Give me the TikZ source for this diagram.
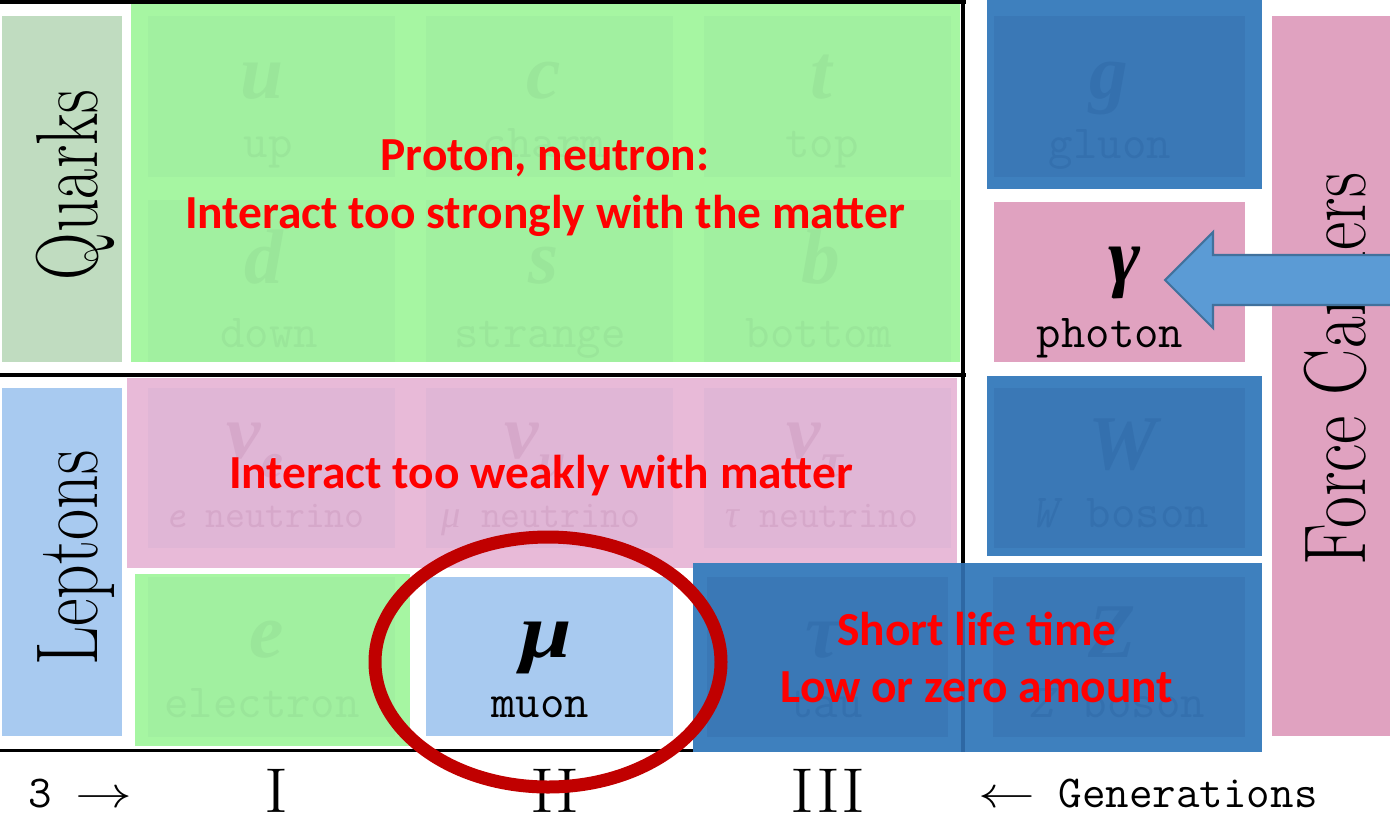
\documentclass[tikz,border=0pt]{standalone}
\usepackage{fontspec}
\newfontfamily\calib{Carlito}
\newfontfamily\symfont{Liberation Serif}
\definecolor{quarkbg}{HTML}{C0DCC0}
\definecolor{leptonbg}{HTML}{A8CAF0}
\definecolor{greenov}{HTML}{A6F6A2}
\definecolor{greencell}{HTML}{A1F0A0}
\definecolor{greentxt}{HTML}{9AE69A}
\definecolor{pinkov}{HTML}{E8BAD8}
\definecolor{pinkcell}{HTML}{E0B6D6}
\definecolor{pinktxt}{HTML}{D6A8CA}
\definecolor{bosonblue}{HTML}{3E80BE}
\definecolor{bosoncell}{HTML}{3A78B6}
\definecolor{bosontxt}{HTML}{3470AE}
\definecolor{bosonline}{HTML}{2E68A4}
\definecolor{photonpink}{HTML}{E0A2C0}
\definecolor{warnred}{HTML}{FF0000}
\definecolor{ringred}{HTML}{C00000}
\definecolor{arrowfill}{HTML}{5B9BD5}
\definecolor{arrowline}{HTML}{41719C}
\begin{document}
\begin{tikzpicture}[x=0.02cm, y=-0.02cm,
    sym/.style={anchor=base, font=\symfont\bfseries\itshape\fontsize{44}{44}\selectfont},
    pname/.style={anchor=base, font=\ttfamily\fontsize{27}{27}\selectfont},
    nuname/.style={anchor=base, font=\ttfamily\fontsize{22}{22}\selectfont},
    warn/.style={anchor=base, text=warnred, font=\calib\bfseries\fontsize{27}{27}\selectfont},
    sidelbl/.style={anchor=base, rotate=90, font=\fontsize{50}{50}\selectfont},
    roman/.style={anchor=base, font=\fontsize{36}{36}\selectfont},
    genlbl/.style={anchor=base, font=\ttfamily\fontsize{26}{26}\selectfont}]
    \useasboundingbox (0,0) rectangle (1390,836);

    % 1. Nền các ô
    \fill[quarkbg] (2,16) rectangle (122,362);
    \fill[leptonbg] (2,388) rectangle (122,736);
    \fill[greenov] (131,4) rectangle (960,362);
    \foreach \x in {148,426,704} {
        \fill[greencell] (\x,16) rectangle +(247,161);
        \fill[greencell] (\x,200) rectangle +(247,162);
    }
    \fill[pinkov] (127,378) rectangle (957,568);
    \foreach \x in {148,426,704}
        \fill[pinkcell] (\x,388) rectangle +(247,160);
    \fill[greenov] (135,574) rectangle (410,746);
    \fill[greencell] (148,577) rectangle (395,737);
    \fill[leptonbg] (426,577) rectangle (673,736);
    \fill[bosonblue] (987,0) rectangle (1262,189);
    \fill[bosoncell] (994,16) rectangle (1245,177);
    \fill[photonpink] (994,202) rectangle (1245,362);
    \fill[bosonblue] (987,376) rectangle (1262,556);
    \fill[bosoncell] (994,388) rectangle (1245,548);
    \fill[photonpink] (1272,16) rectangle (1390,736);

    % 2. Các đường kẻ
    \draw[line width=2.3pt] (0,2) -- (966,2);
    \draw[line width=2pt] (0,375) -- (966,375);
    \draw[line width=1.7pt] (0,750) -- (963,750);
    \draw[line width=2.8pt] (963,2) -- (963,752);

    % 3. Ô tau và Z
    \fill[bosonblue] (693,563) rectangle (1262,752);
    \fill[bosoncell] (707,577) rectangle (948,737);
    \fill[bosoncell] (993,577) rectangle (1245,737);
    \draw[line width=2.8pt, bosonline] (963,563) -- (963,752);

    % 4. Nhãn mờ của các hạt
    \node[sym, text=greentxt] (u) at (262,98) {u};
    \node[sym, text=greentxt] (c) at (544,98) {c};
    \node[sym, text=greentxt] (t) at (821,98) {t};
    \node[sym, text=greentxt] (d) at (264,283) {d};
    \node[sym, text=greentxt] (s) at (544,283) {s};
    \node[sym, text=greentxt] (b) at (821,283) {b};
    \node[pname, text=greentxt] (up) at (268,157) {up};
    \node[pname, text=greentxt] (charm) at (544,157) {charm};
    \node[pname, text=greentxt] (top) at (822,157) {top};
    \node[pname, text=greentxt] (down) at (269,347) {down};
    \node[pname, text=greentxt] (strange) at (540,347) {strange};
    \node[pname, text=greentxt] (bottom) at (819,347) {bottom};
    \node[sym, text=pinktxt] (nue) at (255,458) {ν\raisebox{-0.25em}{\fontsize{28}{28}\selectfont e}};
    \node[sym, text=pinktxt] (numu) at (535,458) {ν\raisebox{-0.25em}{\fontsize{28}{28}\selectfont μ}};
    \node[sym, text=pinktxt] (nutau) at (815,458) {ν\raisebox{-0.25em}{\fontsize{28}{28}\selectfont τ}};
    \node[nuname, text=pinktxt] (enu) at (265,527) {\textit{e} neutrino};
    \node[nuname, text=pinktxt] (munu) at (541,527) {{\symfont\itshape μ} neutrino};
    \node[nuname, text=pinktxt] (taunu) at (822,527) {{\symfont\itshape τ} neutrino};
    \node[sym, text=greentxt] (e) at (267,657) {e};
    \node[pname, text=greentxt] (electron) at (262,717) {electron};
    \node[sym, text=bosontxt] (tau) at (823,657) {τ};
    \node[pname, text=bosontxt] (taulbl) at (826,717) {tau};
    \node[sym, text=bosontxt] (g) at (1109,98) {g};
    \node[pname, text=bosontxt] (gluon) at (1110,158) {gluon};
    \node[sym, text=bosontxt] (W) at (1123,469) {W};
    \node[pname, text=bosontxt] (wboson) at (1120,527) {\textit{W} boson};
    \node[sym, text=bosontxt] (Z) at (1112,657) {Z};
    \node[pname, text=bosontxt] (zboson) at (1117,717) {\textit{Z} boson};

    % 5. Nhãn rõ
    \node[sym] (mu) at (546,657) {\scalebox{1.2}[1]{μ}};
    \node[pname] (muon) at (540,717) {muon};
    \node[sym] (gamma) at (1125,282) {γ};
    \node[pname] (photon) at (1110,347) {photon};
    \node[sidelbl] (quarks) at (97,185) {\scalebox{0.75}[1]{Quarks}};
    \node[sidelbl] (leptons) at (97,558) {\scalebox{0.77}[1]{Leptons}};
    \node[sidelbl] (force) at (1365,369) {\scalebox{0.79}[1]{Force Carriers}};

    % 6. Hàng thế hệ
    \node[genlbl] (three) at (80,807) {3 \scalebox{1.3}[1]{$\rightarrow$}};
    \node[roman] (gen1) at (276,812) {\scalebox{1.15}[1]{I}};
    \node[roman] (gen2) at (555,812) {\scalebox{1.15}[1]{II}};
    \node[roman] (gen3) at (828,812) {\scalebox{1.15}[1]{III}};
    \node[genlbl] (gens) at (1148,807) {\scalebox{1.3}[1]{$\leftarrow$} Generations};

    % 7. Vòng tròn, mũi tên và chữ đỏ
    \draw[ringred, line width=7.4pt] (548,662) ellipse [x radius=173, y radius=125];
    \draw[arrowline, fill=arrowfill, line width=1.2pt]
        (1400,255) -- (1213,255) -- (1213,232) -- (1165,280)
        -- (1213,328) -- (1213,305) -- (1400,305) -- cycle;
    \node[warn] (proton) at (545,170) {Proton, neutron:};
    \node[warn] (strong) at (545,228) {Interact too strongly with the matter};
    \node[warn] (weak) at (541,488) {Interact too weakly with matter};
    \node[warn] (short) at (977,645) {Short life time};
    \node[warn] (amount) at (977,702) {Low or zero amount};
\end{tikzpicture}
\end{document}
